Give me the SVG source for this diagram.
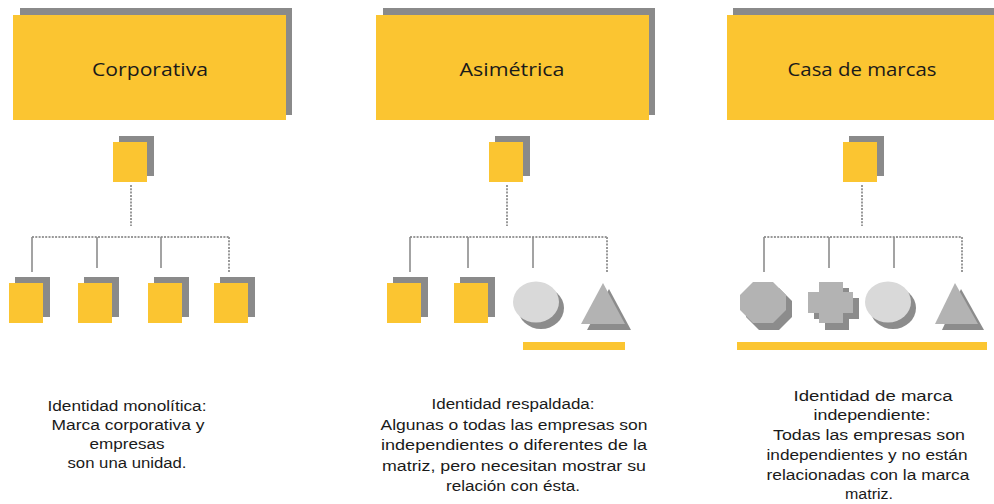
<svg xmlns="http://www.w3.org/2000/svg" width="994" height="504" viewBox="0 0 994 504">
<style>
.y{fill:#FBC531}
.sh{fill:#8a8a8a}
.hd{font-family:"Open Sans","Liberation Sans",sans-serif;font-size:19px;fill:#1a1a1a;text-anchor:middle}
.tx{font-family:"Liberation Sans",Arial,sans-serif;font-size:15.5px;fill:#1a1a1a;text-anchor:middle}
.dot{stroke:#999;stroke-width:2;stroke-dasharray:2 1.3;fill:none}
.sol{stroke:#8c8c8c;stroke-width:1.6;fill:none}
.lg{fill:#d9d9d9}
.mg{fill:#b3b3b3}
.dg{fill:#8c8c8c}
</style>
<defs>
<g id="sq"><rect class="sh" x="6" y="-6" width="35" height="40"/><rect class="y" x="0" y="0" width="34" height="40"/></g>
</defs>
<rect width="994" height="504" fill="#fff"/>

<g id="connectors">
<line class="dot" x1="131" y1="185" x2="131" y2="226"/>
<line class="dot" x1="32" y1="237" x2="229" y2="237"/>
<line class="sol" x1="32" y1="237" x2="32" y2="272"/>
<line class="sol" x1="97" y1="237" x2="97" y2="268"/>
<line class="sol" x1="161" y1="237" x2="161" y2="268"/>
<line class="dot" x1="229" y1="237" x2="229" y2="272"/>

<line class="dot" x1="507" y1="185" x2="507" y2="226"/>
<line class="dot" x1="410" y1="237" x2="607" y2="237"/>
<line class="sol" x1="410" y1="237" x2="410" y2="272"/>
<line class="sol" x1="468" y1="237" x2="468" y2="268"/>
<line class="sol" x1="533" y1="237" x2="533" y2="268"/>
<line class="dot" x1="607" y1="237" x2="607" y2="272"/>

<line class="dot" x1="862" y1="185" x2="862" y2="226"/>
<line class="dot" x1="764" y1="237" x2="962" y2="237"/>
<line class="sol" x1="764" y1="237" x2="764" y2="272"/>
<line class="sol" x1="829" y1="237" x2="829" y2="268"/>
<line class="sol" x1="894" y1="237" x2="894" y2="268"/>
<line class="dot" x1="962" y1="237" x2="962" y2="272"/>
</g>

<g id="header-corporativa">
<rect class="sh" x="20" y="8" width="272" height="107"/>
<rect class="y" x="13" y="15" width="273" height="105"/>
<text class="hd" x="150" y="76" textLength="116" lengthAdjust="spacingAndGlyphs">Corporativa</text>
</g>
<g id="header-asimetrica">
<rect class="sh" x="383" y="8" width="272" height="107"/>
<rect class="y" x="376" y="15" width="273" height="105"/>
<text class="hd" x="512" y="76" textLength="105" lengthAdjust="spacingAndGlyphs">Asimétrica</text>
</g>
<g id="header-casa">
<rect class="sh" x="733" y="8" width="272" height="107"/>
<rect class="y" x="727" y="15" width="273" height="105"/>
<text class="hd" x="862" y="76" textLength="149" lengthAdjust="spacingAndGlyphs">Casa de marcas</text>
</g>

<g id="p1-top"><use href="#sq" x="113" y="142"/></g>
<g id="p1-c1"><use href="#sq" x="9" y="283"/></g>
<g id="p1-c2"><use href="#sq" x="78" y="283"/></g>
<g id="p1-c3"><use href="#sq" x="148" y="283"/></g>
<g id="p1-c4"><use href="#sq" x="214" y="283"/></g>

<g id="p2-top"><use href="#sq" x="489" y="142"/></g>
<g id="p2-c1"><use href="#sq" x="387" y="283"/></g>
<g id="p2-c2"><use href="#sq" x="454" y="283"/></g>
<g id="p2-c3">
<ellipse class="dg" cx="541" cy="308" rx="23" ry="21"/>
<ellipse class="lg" cx="536" cy="302" rx="23" ry="20.5"/>
</g>
<g id="p2-c4">
<polygon class="dg" points="609,289 631,330 587,330"/>
<polygon class="mg" points="603,283 625,324 581,324"/>
</g>
<rect id="p2-bar" class="y" x="523" y="342" width="102" height="8"/>

<g id="p3-top"><use href="#sq" x="843" y="142"/></g>
<g id="p3-c1">
<polygon class="dg" points="759,288 779,288 792,301 792,317 779,330 759,330 746,317 746,301"/>
<polygon class="mg" points="753,282 773,282 786,295 786,310 773,323 753,323 740,310 740,295"/>
</g>
<g id="p3-c2">
<polygon class="dg" points="825,288 849,288 849,298 859,298 859,319 849,319 849,330 825,330 825,319 814,319 814,298 825,298"/>
<polygon class="mg" points="819,282 843,282 843,292 853,292 853,313 843,313 843,323 819,323 819,313 808,313 808,292 819,292"/>
</g>
<g id="p3-c3">
<ellipse class="dg" cx="893" cy="308" rx="23" ry="21"/>
<ellipse class="lg" cx="888" cy="302" rx="23" ry="20.5"/>
</g>
<g id="p3-c4">
<polygon class="dg" points="961,289 984,330 942,330"/>
<polygon class="mg" points="955,283 978,324 935,324"/>
</g>
<rect id="p3-bar" class="y" x="737" y="342" width="250" height="8"/>

<g id="desc1">
<text class="tx" x="127" y="411" textLength="159" lengthAdjust="spacingAndGlyphs">Identidad  monolítica:</text>
<text class="tx" x="128" y="430" textLength="153" lengthAdjust="spacingAndGlyphs">Marca corporativa  y</text>
<text class="tx" x="127" y="449" textLength="75" lengthAdjust="spacingAndGlyphs">empresas</text>
<text class="tx" x="127" y="468" textLength="119" lengthAdjust="spacingAndGlyphs">son una  unidad.</text>
</g>
<g id="desc2">
<text class="tx" x="513" y="409" textLength="163" lengthAdjust="spacingAndGlyphs">Identidad  respaldada:</text>
<text class="tx" x="514" y="430" textLength="267" lengthAdjust="spacingAndGlyphs">Algunas o todas las empresas son</text>
<text class="tx" x="514" y="450" textLength="266" lengthAdjust="spacingAndGlyphs">independientes o diferentes de la</text>
<text class="tx" x="514" y="471" textLength="264" lengthAdjust="spacingAndGlyphs">matriz, pero necesitan mostrar su</text>
<text class="tx" x="513" y="491" textLength="134" lengthAdjust="spacingAndGlyphs">relación con ésta.</text>
</g>
<g id="desc3">
<text class="tx" x="873" y="401" textLength="159" lengthAdjust="spacingAndGlyphs">Identidad  de marca</text>
<text class="tx" x="872" y="420" textLength="117" lengthAdjust="spacingAndGlyphs">independiente:</text>
<text class="tx" x="869" y="440" textLength="192" lengthAdjust="spacingAndGlyphs">Todas las empresas son</text>
<text class="tx" x="867" y="460" textLength="201" lengthAdjust="spacingAndGlyphs">independientes y no están</text>
<text class="tx" x="868" y="480" textLength="203" lengthAdjust="spacingAndGlyphs">relacionadas con la marca</text>
<text class="tx" x="869" y="499" textLength="48" lengthAdjust="spacingAndGlyphs">matriz.</text>
</g>
</svg>
